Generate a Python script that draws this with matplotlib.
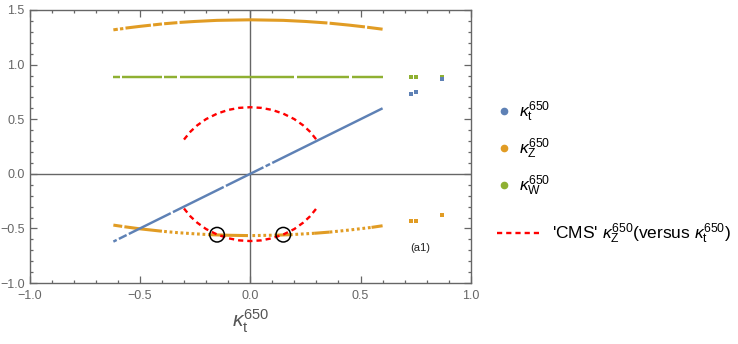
import matplotlib
matplotlib.use("Agg")
import matplotlib.pyplot as plt
from matplotlib.lines import Line2D
import numpy as np

nan = np.nan

# kappa_t (blue) - lies on the diagonal, gaps as NaN
kt_x = [-0.62, -0.605, nan, -0.595, -0.56, nan, -0.55, -0.36, nan, -0.35, -0.12, nan,
        -0.11, 0.06, nan, 0.07, 0.09, nan, 0.10, 0.60]
kt_y = [-0.62, -0.605, nan, -0.595, -0.56, nan, -0.55, -0.36, nan, -0.35, -0.12, nan,
        -0.11, 0.06, nan, 0.07, 0.09, nan, 0.10, 0.60]
kt_px = [0.73, 0.75, 0.87]
kt_py = [0.73, 0.75, 0.87]

# kappa_W (green)
kw_x = [-0.62, -0.59, nan, -0.58, -0.40, nan, -0.39, -0.33, nan, -0.32, 0.20, nan,
        0.21, 0.45, nan, 0.46, 0.60]
kw_y = [0.885, 0.885, nan, 0.885, 0.885, nan, 0.885, 0.885, nan, 0.885, 0.885, nan,
        0.885, 0.885, nan, 0.885, 0.885]
kw_px = [0.73, 0.75, 0.87]
kw_py = [0.885, 0.885, 0.885]

# kappa_Z (orange), upper branch
kz_up_x = [-0.62, -0.60, nan, -0.59, -0.575, nan, -0.565, -0.50, -0.45, nan, -0.44, -0.40, nan,
           -0.39, -0.33, nan, -0.32, -0.25, -0.15, 0.0, 0.15, 0.25, 0.35, nan,
           0.36, 0.45, 0.52, nan, 0.53, 0.60]
kz_up_y = [1.318, 1.324, nan, 1.326, 1.330, nan, 1.334, 1.350, 1.361, nan, 1.363, 1.372, nan,
           1.374, 1.384, nan, 1.386, 1.395, 1.405, 1.410, 1.405, 1.395, 1.381, nan,
           1.379, 1.361, 1.345, nan, 1.342, 1.324]

# kappa_Z (orange), lower branch: solid and dotted stretches
kz_lo_x = [-0.62, -0.58, nan, -0.57, -0.50, -0.45, -0.40, nan, -0.18, -0.10, -0.01, nan,
           0.12, 0.18, nan, 0.29, 0.36, nan, 0.55, 0.60]
kz_lo_y = [-0.469, -0.481, nan, -0.484, -0.503, -0.514, -0.525, nan, -0.557, -0.562, -0.565, nan,
           -0.561, -0.557, nan, -0.544, -0.533, nan, -0.490, -0.475]
kz_dot_x = [-0.39, -0.33, -0.25, -0.18, nan, 0.01, 0.12, nan, 0.18, 0.29, nan, 0.36, 0.45, 0.55]
kz_dot_y = [-0.527, -0.538, -0.549, -0.557, nan, -0.565, -0.561, nan, -0.557, -0.544, nan,
            -0.533, -0.514, -0.490]
kz_px = [0.73, 0.75, 0.87]
kz_py = [-0.43, -0.43, -0.377]

# 'CMS' kappa_Z versus kappa_t (red dashed)
cms_x = [-0.30, -0.27, -0.24, -0.20, -0.15, -0.10, -0.05, 0.0, 0.05, 0.10, 0.15, 0.20, 0.24, 0.27, 0.30]
cms_up = [0.314, 0.388, 0.444, 0.501, 0.551, 0.585, 0.604, 0.610, 0.604, 0.585, 0.551, 0.501, 0.444, 0.388, 0.314]
cms_lo = [-0.317, -0.391, -0.447, -0.505, -0.555, -0.589, -0.609, -0.615, -0.609, -0.589, -0.555, -0.505, -0.447, -0.391, -0.317]

# crossing markers
circ_x = [-0.15, 0.15]
circ_y = [-0.557, -0.557]

blue = "#5E81B5"
orange = "#E19C24"
green = "#8FB032"
red = "#FF0000"
grey = "#666666"

plt.rcParams["font.family"] = ["Liberation Sans", "DejaVu Sans"]
plt.rcParams["mathtext.fontset"] = "custom"
plt.rcParams["mathtext.rm"] = "Liberation Sans"
plt.rcParams["mathtext.it"] = "Liberation Sans:italic"

fig = plt.figure(figsize=(7.38, 3.44), dpi=100)
ax = fig.add_axes([0.040, 0.177, 0.598, 0.794])

ax.axhline(0, color=grey, lw=1.0, zorder=1)
ax.axvline(0, color=grey, lw=1.0, zorder=1)

lw = 2.2
ax.plot(kz_up_x, kz_up_y, color=orange, lw=lw, solid_capstyle="butt", zorder=3)
ax.plot(kz_lo_x, kz_lo_y, color=orange, lw=lw, solid_capstyle="butt", zorder=3)
ax.plot(kz_dot_x, kz_dot_y, color=orange, lw=lw, ls=(0, (0.9, 0.9)), zorder=3)
ax.plot(kz_px, kz_py, "s", color=orange, ms=2.2, mew=0, zorder=3)
ax.plot(kw_x, kw_y, color=green, lw=lw * 0.8, solid_capstyle="butt", zorder=3)
ax.plot(kw_px, kw_py, "s", color=green, ms=2.2, mew=0, zorder=3)
ax.plot(kt_x, kt_y, color=blue, lw=lw * 0.8, solid_capstyle="butt", zorder=4)
ax.plot(kt_px, kt_py, "s", color=blue, ms=2.2, mew=0, zorder=4)

ax.plot(cms_x, cms_up, color=red, lw=1.7, ls=(0, (2.2, 1.7)), zorder=5)
ax.plot(cms_x, cms_lo, color=red, lw=1.7, ls=(0, (2.2, 1.7)), zorder=5)
ax.scatter(circ_x, circ_y, s=110, facecolors="none", edgecolors="black", linewidths=1.1, zorder=6)

ax.text(0.77, -0.68, "(a1)", fontsize=8, ha="center", va="center", color="#222222")

ax.set_xlim(-1, 1)
ax.set_ylim(-1, 1.5)
ax.set_xticks([-1, -0.5, 0, 0.5, 1])
ax.set_xticklabels(["\u22121.0", "\u22120.5", "0.0", "0.5", "1.0"])
ax.set_yticks([-1, -0.5, 0, 0.5, 1, 1.5])
ax.set_yticklabels(["\u22121.0", "\u22120.5", "0.0", "0.5", "1.0", "1.5"])
ax.set_xticks(np.arange(-1, 1.01, 0.1), minor=True)
ax.set_yticks(np.arange(-1, 1.51, 0.1), minor=True)
ax.tick_params(which="both", direction="in", top=True, right=True, colors=grey,
               labelcolor=grey, labelsize=9, width=0.9)
ax.tick_params(which="major", length=5)
ax.tick_params(which="minor", length=2.5)
ax.tick_params(axis="x", pad=5)
for s in ax.spines.values():
    s.set_color(grey)
    s.set_linewidth(1.0)

ax.set_xlabel(r"$\kappa_{\rm t}^{650}$", fontsize=15, color="#555555", labelpad=4)

h1 = [Line2D([], [], ls="", marker="o", ms=4.5, color=blue),
      Line2D([], [], ls="", marker="o", ms=4.5, color=orange),
      Line2D([], [], ls="", marker="o", ms=4.5, color=green)]
l1 = [r"$\kappa_{\rm t}^{650}$", r"$\kappa_{\rm Z}^{650}$", r"$\kappa_{\rm W}^{650}$"]
leg1 = fig.legend(h1, l1, loc="upper left", bbox_to_anchor=(0.652, 0.755), frameon=False,
                  fontsize=12.5, handlelength=0.8, handletextpad=0.5, labelspacing=0.72)
h2 = [Line2D([], [], color=red, lw=1.7, ls=(0, (2.2, 1.7)))]
l2 = [r"'CMS' $\kappa_{\rm Z}^{650}$(versus $\kappa_{\rm t}^{650}$)"]
fig.legend(h2, l2, loc="upper left", bbox_to_anchor=(0.652, 0.40), frameon=False,
           fontsize=12.5, handlelength=2.6, handletextpad=0.6)

fig.savefig("out.png", dpi=100)
